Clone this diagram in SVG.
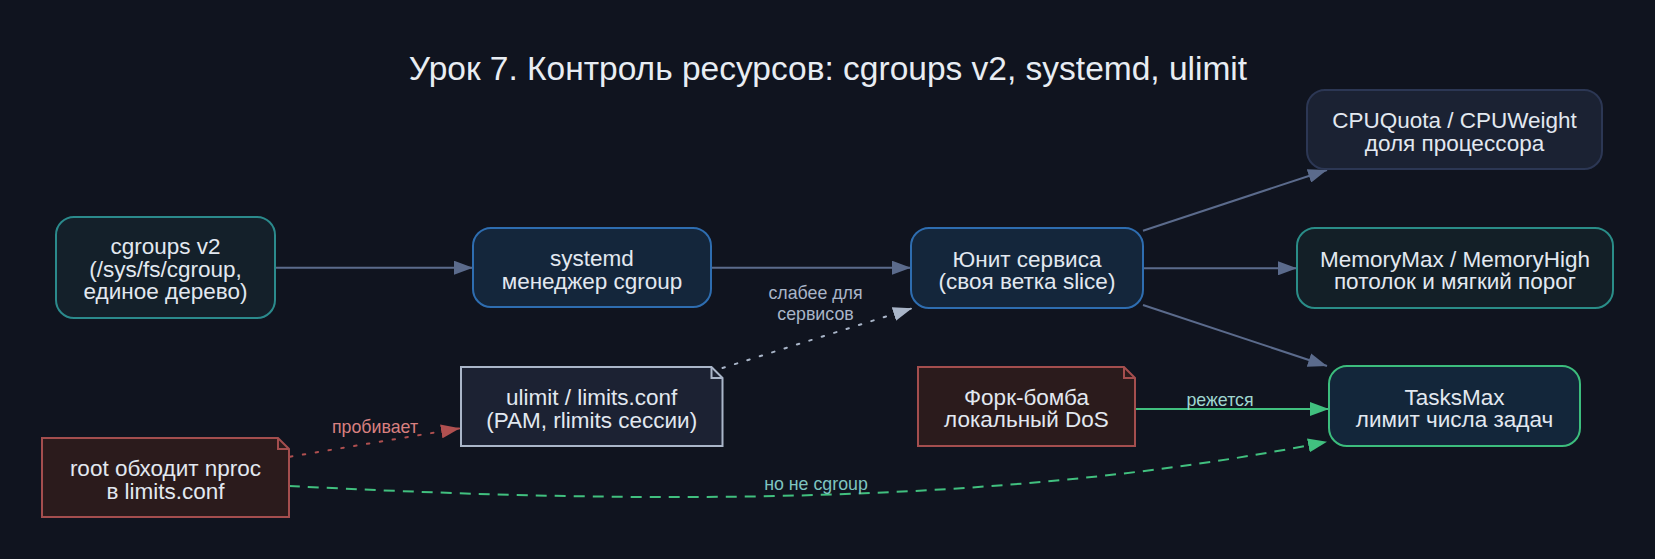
<svg xmlns="http://www.w3.org/2000/svg" width="1655" height="559" viewBox="0 0 1655 559">
<defs>
<style>
.t{font-family:"Liberation Sans",Arial,sans-serif;font-size:22.5px;text-anchor:middle;fill:#e2e8f0}
.lbl{font-family:"Liberation Sans",Arial,sans-serif;font-size:17.8px;text-anchor:middle}
.title{font-family:"Liberation Sans",Arial,sans-serif;font-size:33.5px;text-anchor:middle;fill:#e8edf3}
.e{fill:none;stroke-width:2}
.n{stroke-width:2}
</style>
<marker id="aB" markerUnits="userSpaceOnUse" markerWidth="20" markerHeight="14" refX="19" refY="7" orient="auto"><path d="M0,0 L19,7 L0,14 z" fill="#5b6b8c"/></marker>
<marker id="aG" markerUnits="userSpaceOnUse" markerWidth="20" markerHeight="14" refX="19" refY="7" orient="auto"><path d="M0,0 L19,7 L0,14 z" fill="#41c07f"/></marker>
<marker id="aR" markerUnits="userSpaceOnUse" markerWidth="20" markerHeight="14" refX="19" refY="7" orient="auto"><path d="M0,0 L19,7 L0,14 z" fill="#b05050"/></marker>
<marker id="aL" markerUnits="userSpaceOnUse" markerWidth="20" markerHeight="14" refX="19" refY="7" orient="auto"><path d="M0,0 L19,7 L0,14 z" fill="#a9b5c8"/></marker>
</defs>
<rect width="1655" height="559" fill="#10141f"/>
<text class="title" x="828" y="80">Урок 7. Контроль ресурсов: cgroups v2, systemd, ulimit</text>

<g id="edges">
<path class="e" stroke="#5b6b8c" d="M275,267.7 L473,267.7" marker-end="url(#aB)"/>
<path class="e" stroke="#5b6b8c" d="M711,267.7 L911,267.7" marker-end="url(#aB)"/>
<path class="e" stroke="#5b6b8c" d="M1143,230.7 L1327,170" marker-end="url(#aB)"/>
<path class="e" stroke="#5b6b8c" d="M1143,268.3 L1297,268.3" marker-end="url(#aB)"/>
<path class="e" stroke="#5b6b8c" d="M1143,305 L1327,366" marker-end="url(#aB)"/>
<path class="e" stroke="#41c07f" d="M1135,409 L1329,409" marker-end="url(#aG)"/>
<path class="e" stroke="#a9b5c8" stroke-dasharray="2.5,10.5" stroke-linecap="round" d="M722.5,368 L912,308.3" marker-end="url(#aL)"/>
<path class="e" stroke="#b05050" stroke-dasharray="2.5,10.5" stroke-linecap="round" d="M290,456.7 L460,428.3" marker-end="url(#aR)"/>
<path class="e" stroke="#41c07f" stroke-dasharray="11,8" d="M289,486 C589,501 977,511.7 1327,441.7" marker-end="url(#aG)"/>
<text class="lbl" fill="#a9b5c8" x="815.5" y="299">слабее для</text>
<text class="lbl" fill="#a9b5c8" x="815.5" y="320">сервисов</text>
<text class="lbl" fill="#d98080" x="375" y="433">пробивает</text>
<text class="lbl" fill="#9fd6d0" x="1220" y="406">режется</text>
<text class="lbl" fill="#7fc4c0" x="816" y="490">но не cgroup</text>
</g>

<g id="cgroups">
<rect class="n" x="56" y="217" width="219" height="101" rx="18" fill="#14202a" stroke="#2b8a8c"/>
<text class="t" x="165.5" y="254">cgroups v2</text>
<text class="t" x="165.5" y="276.5">(/sys/fs/cgroup,</text>
<text class="t" x="165.5" y="299">единое дерево)</text>
</g>
<g id="systemd">
<rect class="n" x="473" y="228" width="238" height="79" rx="18" fill="#14263b" stroke="#2e6db0"/>
<text class="t" x="592" y="266">systemd</text>
<text class="t" x="592" y="288.5">менеджер cgroup</text>
</g>
<g id="unit">
<rect class="n" x="911" y="228" width="232" height="80" rx="18" fill="#14263b" stroke="#2e6db0"/>
<text class="t" x="1027" y="266.5">Юнит сервиса</text>
<text class="t" x="1027" y="289">(своя ветка slice)</text>
</g>
<g id="cpu">
<rect class="n" x="1307" y="90" width="295" height="79" rx="18" fill="#1b2233" stroke="#2c3754"/>
<text class="t" x="1454.5" y="128">CPUQuota / CPUWeight</text>
<text class="t" x="1454.5" y="150.5">доля процессора</text>
</g>
<g id="memory">
<rect class="n" x="1297" y="228" width="316" height="80" rx="18" fill="#131f27" stroke="#2a8d88"/>
<text class="t" x="1455" y="266.5">MemoryMax / MemoryHigh</text>
<text class="t" x="1455" y="289">потолок и мягкий порог</text>
</g>
<g id="tasks">
<rect class="n" x="1329" y="366" width="251" height="80" rx="18" fill="#13263a" stroke="#3cbd7d"/>
<text class="t" x="1454.5" y="404.5" fill="#cde3ec">TasksMax</text>
<text class="t" x="1454.5" y="427" fill="#cde3ec">лимит числа задач</text>
</g>
<g id="fork">
<path class="n" d="M918,367 L1124,367 L1135,378 L1135,446 L918,446 Z" fill="#2b1b1c" stroke="#a44e4e"/>
<path fill="none" stroke="#a44e4e" stroke-width="2" d="M1124,367 L1124,378 L1135,378"/>
<text class="t" x="1026.5" y="404.5" fill="#f3d6d6">Форк-бомба</text>
<text class="t" x="1026.5" y="427" fill="#f3d6d6">локальный DoS</text>
</g>
<g id="ulimit">
<path class="n" d="M461,367 L711.5,367 L722.5,378 L722.5,446 L461,446 Z" fill="#1c2233" stroke="#aab6c9"/>
<path fill="none" stroke="#aab6c9" stroke-width="2" d="M711.5,367 L711.5,378 L722.5,378"/>
<text class="t" x="591.7" y="405">ulimit / limits.conf</text>
<text class="t" x="591.7" y="427.5">(PAM, rlimits сессии)</text>
</g>
<g id="root">
<path class="n" d="M42,438 L278,438 L289,449 L289,517 L42,517 Z" fill="#2b1b1c" stroke="#a44e4e"/>
<path fill="none" stroke="#a44e4e" stroke-width="2" d="M278,438 L278,449 L289,449"/>
<text class="t" x="165.5" y="476" fill="#f3d6d6">root обходит nproc</text>
<text class="t" x="165.5" y="498.5" fill="#f3d6d6">в limits.conf</text>
</g>
</svg>
